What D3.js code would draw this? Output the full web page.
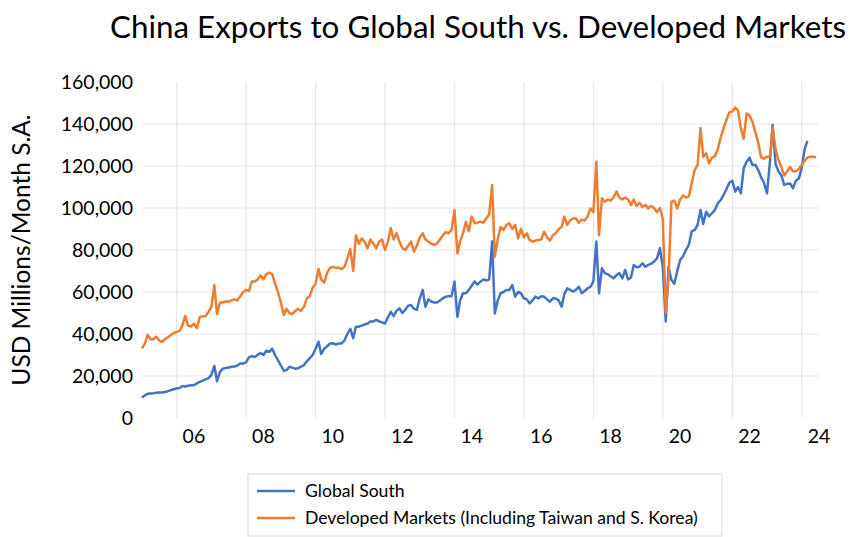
<!DOCTYPE html>
<meta charset="utf-8">
<head>
<style>
body { margin: 0; background: #fff; }
text { font-family: Lato, "Open Sans", sans-serif; fill: #000; }
.grid line { stroke: #e6e6e6; stroke-width: 1.2px; }
.series { fill: none; stroke-width: 2.5px; stroke-linejoin: round; }
</style>
</head>
<body>
<svg width="850" height="537"></svg>
<script src="https://d3js.org/d3.v7.min.js"></script>
<script>

// monthly values, thousands of USD millions, starting Jan 2005
var firstMonth = new Date(2005, 0, 1);

var developed = [
  33.2, 35.5, 39.5, 37.5, 37.5, 38.7, 37, 36.3, 37.5, 38.5, 39.5, 40.5,
  41, 41.5, 44, 48.6, 44, 43.5, 45, 42.8, 48, 48.5, 48.5, 50.5,
  53, 63.3, 49.5, 55, 55, 55.5, 55.5, 56, 56.5, 56, 58, 60,
  61, 60.5, 65, 65, 66, 68, 66, 68.5, 69.2, 68.5, 64, 60,
  55, 49, 52, 50, 49.5, 51, 52, 51, 53, 57, 58, 62,
  64, 71, 66, 64.5, 69, 71.5, 72, 71.5, 71.5, 71, 72, 76,
  80.5, 70, 87, 83, 85.5, 84, 80.8, 85, 83, 80.8, 84, 85,
  80, 84, 90.5, 85, 88, 84, 81, 80, 82, 84, 79.2, 82,
  86, 88, 85, 84, 83, 82.5, 83, 85, 87, 88.5, 88, 89.5,
  99, 78.4, 84, 88, 93.5, 89, 95.9, 92.7, 93, 93.5, 93, 95,
  97, 111, 76.8, 85, 91, 89.5, 92, 92.7, 90, 92, 85.5, 90,
  86, 88, 84.8, 84, 84.5, 84.8, 85, 88.7, 86, 84.5, 87, 88,
  90, 91, 95.9, 92, 94, 95, 95.1, 93, 94.5, 94, 96, 99.8,
  98, 122, 87, 104.6, 103, 104, 103.5, 105, 107.8, 105, 104, 105,
  104, 101.4, 104, 101, 102.5, 100.5, 101.5, 99.8, 101, 100, 98, 100,
  95, 50, 66, 103, 103.5, 99.8, 104, 106, 105, 105.5, 112, 118,
  120.5, 138, 124.4, 126, 121.3, 124, 124.5, 128, 133.5, 138, 142, 145.5,
  146, 147.8, 146.5, 138, 133, 145, 144, 141, 136, 131, 124, 123.5,
  124.4, 124.4, 138.5, 128, 123, 119.5, 115.5, 117.5, 119.5, 117.5, 117.5, 118.5,
  120.5, 122.5, 124, 124.4, 124.4, 124.2
];

var globalSouth = [
  9.8, 10.8, 11.5, 11.7, 11.8, 12, 12.1, 12.1, 12.4, 12.8, 13.3, 13.7,
  14.1, 14.3, 15.2, 15, 15.4, 15.6, 15.6, 16.5, 17.2, 17.8, 18.4, 19,
  20.5, 24.8, 17.5, 22, 23.5, 23.8, 24, 24.4, 24.5, 25, 26, 26,
  26.5, 29, 29.5, 29, 30, 31, 30, 32, 31.5, 33, 30, 27.5,
  25, 22.5, 22.8, 24.4, 24, 23.5, 23.7, 24.5, 25.2, 27, 28.5, 30,
  33, 36.3, 30.5, 33, 34, 35.5, 35.6, 35, 35.5, 35.5, 37, 40,
  42.5, 38, 43.5, 43.5, 44, 44.5, 45, 46, 46, 46.7, 46, 45.5,
  45, 48, 50.6, 48.5, 51, 52.2, 50, 51.5, 53.5, 53.8, 52, 51.5,
  57, 61, 53, 56.5, 55.5, 55, 55, 56, 57, 57.8, 58, 58,
  65, 48.2, 56, 59.4, 59.4, 61, 63, 65, 63.5, 65, 66, 65.5,
  66, 84, 49.8, 56, 59.4, 60, 61, 61, 63.3, 57.8, 60, 59.4,
  57, 56.5, 54.6, 56, 57.8, 56.9, 58, 57.8, 56.5, 55.4, 57, 56.9,
  56, 53, 59, 61.7, 61, 60.2, 61, 62.5, 59.4, 60.5, 61.7, 62.5,
  65, 84, 59.4, 71.3, 69, 68.5, 67.5, 66.5, 68, 69, 66.5, 70.5,
  66, 67, 72.9, 71.8, 72, 73.7, 72, 72.9, 73.5, 74.5, 76, 80.8,
  72, 46, 72, 65.7, 64, 70, 75.2, 77, 80, 82.4, 89, 89.5,
  92, 99, 92.4, 98.2, 96, 97.5, 99, 102.2, 103.8, 106.2, 109, 112,
  113, 107.8, 110, 107, 119, 122, 124, 120.5, 120.5, 118, 114.5, 112,
  107, 122, 139.5, 121, 117.5, 115.5, 111, 111.5, 111.7, 109.3, 113, 114,
  119, 128, 132
];

var yTicks = [0, 20000, 40000, 60000, 80000, 100000, 120000, 140000, 160000];
var xTickYears = [2006, 2008, 2010, 2012, 2014, 2016, 2018, 2020, 2022, 2024];
var seriesNames = ["Global South", "Developed Markets (Including Taiwan and S. Korea)"];
var seriesColors = ["#4472C4", "#ED7D31"];

var svg = d3.select("svg");

var x = d3.scaleTime()
    .domain([new Date(2005, 0, 1), new Date(2024, 6, 1)])
    .range([142, 819]);

var y = d3.scaleLinear()
    .domain([0, 160000])
    .range([418, 82]);

function toPoints(arr) {
  return arr.map(function(v, i) {
    return { date: d3.timeMonth.offset(firstMonth, i), value: v * 1000 };
  });
}

// gridlines
var grid = svg.append("g").attr("class", "grid");
grid.selectAll(".h")
  .data(yTicks.filter(function(d) { return d > 0 && d < 160000; }))
  .enter().append("line")
    .attr("x1", x.range()[0]).attr("x2", x.range()[1])
    .attr("y1", function(d) { return y(d); })
    .attr("y2", function(d) { return y(d); });
grid.selectAll(".v")
  .data(xTickYears)
  .enter().append("line")
    .attr("x1", function(d) { return x(new Date(d, 0, 1)); })
    .attr("x2", function(d) { return x(new Date(d, 0, 1)); })
    .attr("y1", y(160000)).attr("y2", y(0));

// y tick labels
svg.append("g").selectAll("text")
  .data(yTicks)
  .enter().append("text")
    .attr("x", 133)
    .attr("y", function(d) { return y(d) + 6.8; })
    .attr("text-anchor", "end")
    .style("font-size", "19.5px")
    .text(d3.format(","));

// x tick labels, centred in the year
svg.append("g").selectAll("text")
  .data(xTickYears)
  .enter().append("text")
    .attr("x", function(d) { return x(new Date(d, 6, 1)); })
    .attr("y", 443)
    .attr("text-anchor", "middle")
    .style("font-size", "19.5px")
    .text(function(d) { return String(d).slice(2); });

var line = d3.line()
    .x(function(d) { return x(d.date); })
    .y(function(d) { return y(d.value); });

svg.append("path")
    .datum(toPoints(globalSouth))
    .attr("class", "series")
    .attr("stroke", seriesColors[0])
    .attr("d", line);

svg.append("path")
    .datum(toPoints(developed))
    .attr("class", "series")
    .attr("stroke", seriesColors[1])
    .attr("d", line);

// title + axis label
svg.append("text")
    .attr("x", 110).attr("y", 38)
    .attr("textLength", 736)
    .attr("lengthAdjust", "spacingAndGlyphs")
    .style("font-size", "31px")
    .text("China Exports to Global South vs. Developed Markets");

svg.append("text")
    .attr("transform", "translate(30,250) rotate(-90)")
    .attr("text-anchor", "middle")
    .style("font-size", "24.5px")
    .text("USD Millions/Month S.A.");

// legend
var legend = svg.append("g");
legend.append("rect")
    .attr("x", 248).attr("y", 474)
    .attr("width", 474).attr("height", 62)
    .attr("fill", "#fff").attr("stroke", "#d9d9d9");

var item = legend.selectAll(".item")
  .data(seriesNames)
  .enter().append("g")
    .attr("transform", function(d, i) { return "translate(0," + (491 + i * 27) + ")"; });

item.append("line")
    .attr("x1", 257).attr("x2", 295)
    .attr("stroke", function(d, i) { return seriesColors[i]; })
    .attr("stroke-width", 2.5);

item.append("text")
    .attr("x", 305).attr("y", 6)
    .style("font-size", "17.6px")
    .text(function(d) { return d; });

</script>
</body>
